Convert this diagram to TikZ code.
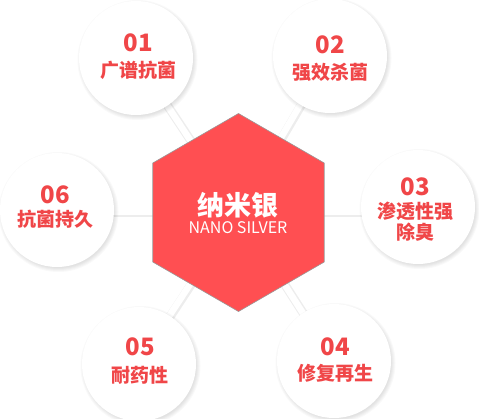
\documentclass[tikz,border=0pt]{standalone}
\usepackage{fontspec}
\setmainfont{Noto Sans CJK SC}
\usetikzlibrary{shapes.geometric}
\definecolor{nanored}{HTML}{FF4F52}
\definecolor{labelred}{HTML}{F04648}

\begin{document}
\begin{tikzpicture}[x=1pt,y=-1pt,
    bubble/.style={circle,fill=white,minimum size=114pt,inner sep=0pt},
    arm/.style={draw=black!7,line width=9pt},
    armtop/.style={draw=white,line width=6.5pt},
    num/.style={text=labelred,font=\bfseries\fontsize{24}{24}\selectfont},
    txt/.style={text=labelred,font=\bfseries\fontsize{19}{21}\selectfont,align=center}]
  \useasboundingbox (0,0) rectangle (479,418);
  \coordinate (mid) at (238.5,212.5);
  \foreach \n/\x/\y in {1/136/58, 2/330/56, 3/418/207, 4/334/361, 5/139/364, 6/57/210}
    \coordinate (p\n) at (\x,\y);
  % arms
  \foreach \n in {1,2,4,5} {
    \draw[arm] (mid) -- (p\n);
    \draw[armtop] ([shift={(-0.8,-0.8)}]mid) -- ([shift={(-0.8,-0.8)}]p\n);
  }
  \foreach \n in {3,6} {
    \draw[arm] (mid) -- (mid -| p\n);
    \draw[armtop] ([yshift=0.8pt]mid) -- ([yshift=0.8pt]mid -| p\n);
  }
  % soft shadows
  \foreach \n in {1,...,6}
    \foreach \k in {1,...,5}
      \fill[black,opacity=0.025] ([shift={(1.5,2)}]p\n) circle (55+\k);
  \foreach \n in {1,...,6}
    \node[bubble] (c\n) at (p\n) {};
  \node[num] (n1) at (138,43) {01};
  \node[txt] (t1) at (138,70) {广谱抗菌};
  \node[num] (n2) at (330,45) {02};
  \node[txt] (t2) at (330,72) {强效杀菌};
  \node[num] (n3) at (415,187) {03};
  \node[txt] (t3) at (415,222) {渗透性强\\除臭};
  \node[num] (n4) at (335,347) {04};
  \node[txt] (t4) at (335,373) {修复再生};
  \node[num] (n5) at (140,347) {05};
  \node[txt] (t5) at (140,375) {耐药性};
  \node[num] (n6) at (55,195) {06};
  \node[txt] (t6) at (55,219) {抗菌持久};
  % center
  \node[regular polygon,regular polygon sides=6,shape border rotate=30,
        minimum size=198pt,inner sep=0pt,fill=nanored,draw=black!40,line width=0.6pt] (hex) at (mid) {};
  \node[text=white,font=\bfseries\fontsize{27}{27}\selectfont] (name) at (238,205) {纳米银};
  \node[text=white,font=\fontsize{16}{16}\selectfont] (eng) at (238,228) {NANO SILVER};
\end{tikzpicture}
\end{document}
